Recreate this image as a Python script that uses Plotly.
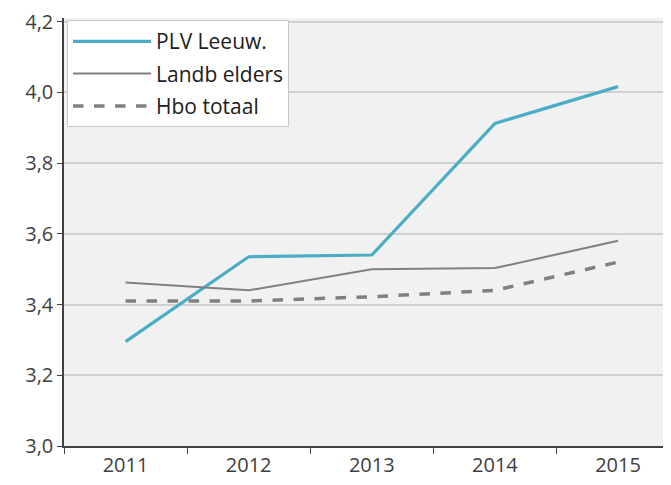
import plotly.graph_objects as go

years = ["2011", "2012", "2013", "2014", "2015"]
plv = [3.295, 3.535, 3.54, 3.912, 4.016]
landb = [3.462, 3.44, 3.50, 3.503, 3.58]
hbo = [3.41, 3.41, 3.422, 3.44, 3.52]
y_ticks = [3.0, 3.2, 3.4, 3.6, 3.8, 4.0, 4.2]

fig = go.Figure()
fig.add_trace(go.Scatter(x=years, y=plv, mode="lines", name="PLV Leeuw.", legendgroup="a",
                         line=dict(color="#4bacc6", width=3.2)))
fig.add_trace(go.Scatter(x=years, y=landb, mode="lines", name="Landb elders", legendgroup="b",
                         line=dict(color="#808080", width=2)))
fig.add_trace(go.Scatter(x=years, y=hbo, mode="lines", name="Hbo totaal", legendgroup="c",
                         line=dict(color="#808080", width=3.5, dash="dash")))

fig.update_layout(
    width=663, height=477,
    margin=dict(l=56, r=0, t=8, b=39),
    paper_bgcolor="white",
    plot_bgcolor="#f1f1f1",
    separators=",.",
    font=dict(family="Open Sans, Liberation Sans, sans-serif", size=20, color="#404040"),
    showlegend=True,
    legend=dict(x=0.005, y=0.995, xanchor="left", yanchor="top",
                bgcolor="white", bordercolor="#c8c8c8", borderwidth=1,
                font=dict(size=21, color="#202020"),
                tracegroupgap=2, itemwidth=78),
    xaxis=dict(type="category", range=[-0.5, 4.43], showgrid=False,
               showline=True, linecolor="#404040", linewidth=1.5,
               ticks="outside", tickson="boundaries", ticklen=6,
               tickcolor="#404040", zeroline=False),
    yaxis=dict(range=[3.0, 4.21], tickvals=y_ticks, tickformat=".1f",
               showgrid=True, gridcolor="#d0d0d0", gridwidth=1.5,
               showline=True, linecolor="#404040", linewidth=1.5,
               ticks="outside", ticklen=5, tickcolor="#404040",
               zeroline=False, ticklabeloverflow="allow"),
)

fig.write_html("out.html")
